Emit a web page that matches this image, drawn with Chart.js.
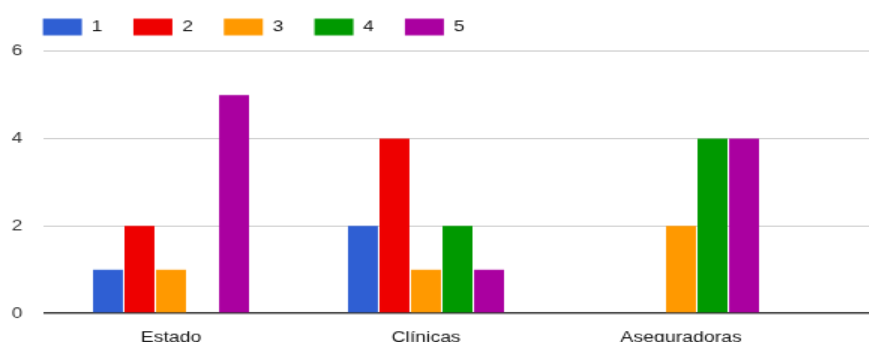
<!DOCTYPE html>
<html>
<head>
<meta charset="utf-8">
<script src="https://cdn.jsdelivr.net/npm/chart.js@4"></script>
<style>
  html, body { margin: 0; padding: 0; background: #fff; overflow: hidden; }
  #wrap { position: relative; width: 869px; height: 342px; overflow: hidden; }
  /* la captura original esta estirada: mas ancha que alta */
  #chart { position: absolute; left: 0; top: 0; transform: scale(1.5, 1.2); transform-origin: 0 0; }
</style>
</head>
<body>
<div id="wrap"><canvas id="chart" width="580" height="287"></canvas></div>
<script>
const categories = ["Estado", "Clínicas", "Aseguradoras"];
const seriesNames = ["1", "2", "3", "4", "5"];
const seriesColors = ["#2f5fd3", "#ee0000", "#ff9900", "#009900", "#aa00a0"];
const values1 = [1, 2, 0];
const values2 = [2, 4, 0];
const values3 = [1, 1, 2];
const values4 = [0, 2, 4];
const values5 = [5, 1, 4];
const yTicks = [0, 2, 4, 6];

const gridColor = "#cccccc";
const axisColor = "#333333";

Chart.defaults.font.family = 'Arial, "Liberation Sans", sans-serif';
Chart.defaults.font.size = 13;

// Alto extra bajo la leyenda (hueco hasta la primera linea de la rejilla)
const legendGap = {
  id: "legendGap",
  beforeInit(chart) {
    const fit = chart.legend.fit;
    chart.legend.fit = function () { fit.call(this); this.height += 3.2; };
  },
};

// Las lineas de la rejilla siguen hasta el borde derecho del lienzo
const gridTail = {
  id: "gridTail",
  beforeDatasetsDraw(chart) {
    const { ctx, chartArea, scales } = chart;
    ctx.save();
    scales.y.ticks.forEach((t) => {
      const zero = t.value === 0;
      const w = zero ? 1.6 : 1;
      const py = Math.round(scales.y.getPixelForValue(t.value) - w / 2) + w / 2;
      ctx.strokeStyle = zero ? axisColor : gridColor;
      ctx.lineWidth = w;
      ctx.beginPath();
      ctx.moveTo(chartArea.right, py);
      ctx.lineTo(chart.width, py);
      ctx.stroke();
    });
    ctx.restore();
  },
};

const seriesValues = [values1, values2, values3, values4, values5];

new Chart(document.getElementById("chart"), {
  type: "bar",
  data: {
    labels: categories,
    datasets: seriesNames.map((name, i) => ({
      label: name,
      data: seriesValues[i],
      backgroundColor: seriesColors[i],
      borderWidth: 0,
      barPercentage: 0.95,
      categoryPercentage: 0.618,
    })),
  },
  options: {
    responsive: false,
    animation: false,
    devicePixelRatio: 1,
    layout: { padding: { left: 8, top: -5, right: 41, bottom: 0 } },
    plugins: {
      tooltip: { enabled: false },
      legend: {
        position: "top",
        align: "start",
        labels: {
          boxWidth: 26,
          boxHeight: 14,
          padding: 20.6,
          color: "#111",
          font: { size: 13 },
        },
      },
    },
    scales: {
      x: {
        grid: { display: false, drawTicks: false },
        border: { display: false },
        ticks: { padding: 13, color: "#111", maxRotation: 0, font: { size: 13 } },
        afterFit: (s) => { s.height = 26; },
      },
      y: {
        min: 0,
        max: 6,
        afterBuildTicks: (s) => { s.ticks = yTicks.map((v) => ({ value: v })); },
        ticks: { padding: 14, color: "#333", font: { size: 13 } },
        grid: {
          drawTicks: false,
          color: (c) => (c.tick && c.tick.value === 0 ? axisColor : gridColor),
          lineWidth: (c) => (c.tick && c.tick.value === 0 ? 1.6 : 1),
        },
        border: { display: false },
        afterFit: (s) => { s.width = 21; },
      },
    },
  },
  plugins: [legendGap, gridTail],
});
</script>
</body>
</html>
